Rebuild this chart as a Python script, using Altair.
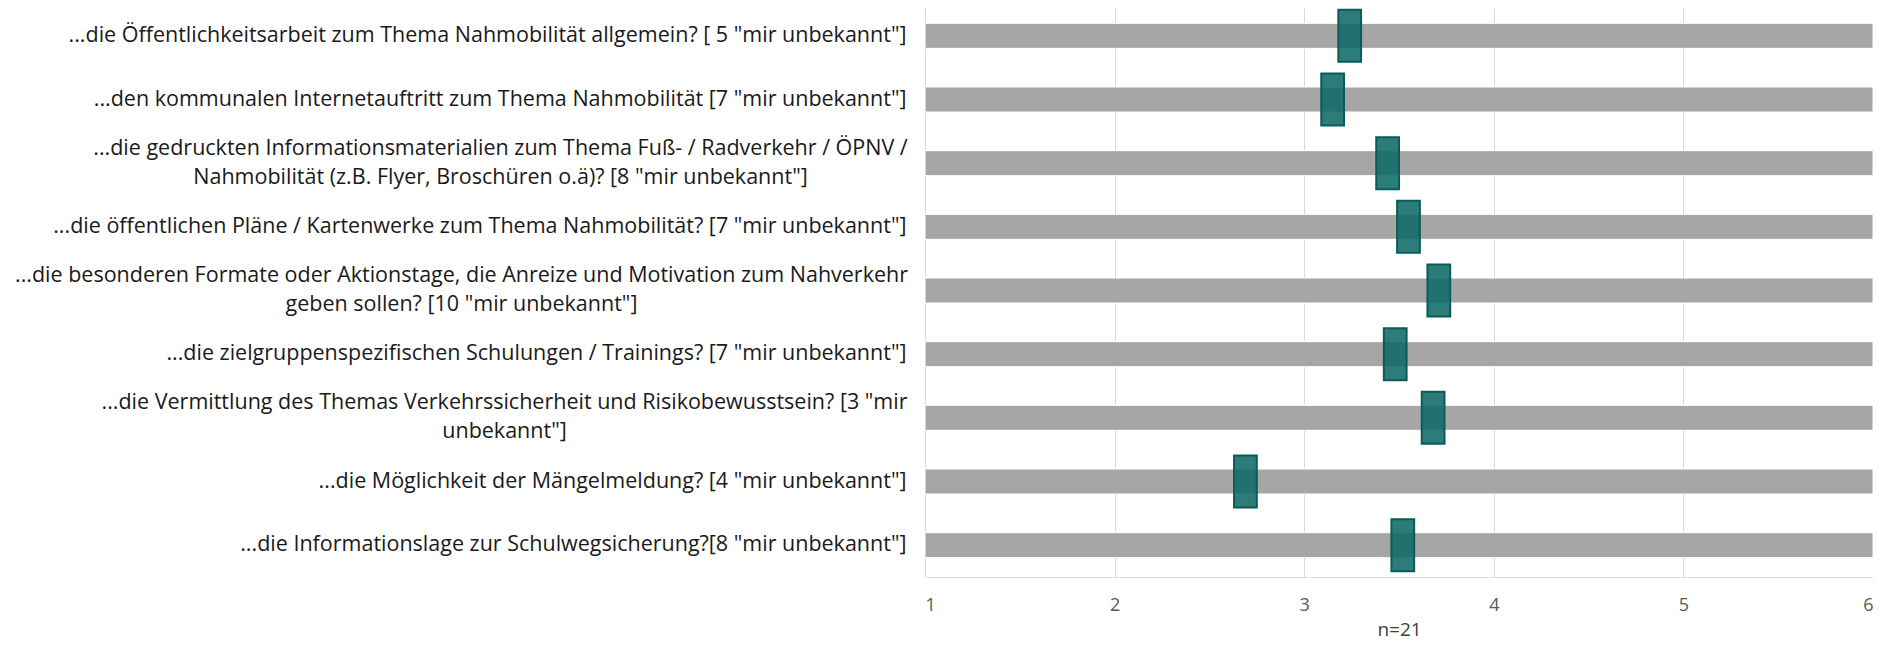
import altair as alt
import pandas as pd

labels = [
    '...die Öffentlichkeitsarbeit zum Thema  Nahmobilität allgemein? [ 5 "mir unbekannt"]',
    '...den kommunalen Internetauftritt zum Thema Nahmobilität [7 "mir unbekannt"]',
    '...die gedruckten Informationsmaterialien zum Thema Fuß- / Radverkehr / ÖPNV /\nNahmobilität (z.B. Flyer, Broschüren o.ä)? [8 "mir unbekannt"]',
    '...die öffentlichen Pläne / Kartenwerke zum Thema Nahmobilität? [7 "mir unbekannt"]',
    '...die besonderen Formate oder Aktionstage, die Anreize und Motivation zum Nahverkehr\ngeben sollen? [10 "mir unbekannt"]',
    '...die zielgruppenspezifischen Schulungen / Trainings? [7 "mir unbekannt"]',
    '...die Vermittlung des Themas Verkehrssicherheit und Risikobewusstsein? [3 "mir\nunbekannt"]',
    '...die Möglichkeit der Mängelmeldung? [4 "mir unbekannt"]',
    '...die Informationslage zur Schulwegsicherung?[8 "mir unbekannt"]',
]
means = [3.24, 3.15, 3.44, 3.55, 3.71, 3.48, 3.68, 2.69, 3.52]
scale_min = [1] * len(labels)
scale_max = [6] * len(labels)
x_ticks = [1, 2, 3, 4, 5, 6]
x_title = "n=21"

df = pd.DataFrame({"label": labels, "mean": means, "lo": scale_min, "hi": scale_max})

FONT = "Open Sans"
LABEL_SIZE = 21.5
LINE_H = 29
PAD = 19
MULTI = "indexof(datum.value, '\\n') >= 0"

# centre wrapped labels on their widest line (half-widths of that line, in px)
centre_pads = [
    ("gedruckten", PAD + 406),
    ("besonderen", PAD + 445),
    ("Vermittlung", PAD + 402),
]

y_enc = alt.Y(
    "label:N",
    sort=labels,
    scale=alt.Scale(paddingInner=0, paddingOuter=0),
    axis=alt.Axis(
        title=None,
        domain=False,
        ticks=False,
        grid=False,
        labelFont=FONT,
        labelFontSize=LABEL_SIZE,
        labelColor="#1a1a1a",
        labelLimit=2000,
        labelLineHeight=LINE_H,
        labelExpr="split(datum.value, '\\n')",
        labelAlign={"condition": {"test": MULTI, "value": "center"}, "value": "right"},
        labelPadding={
            "condition": [
                {"test": f"indexof(datum.value, '{key}') >= 0", "value": val}
                for key, val in centre_pads
            ],
            "value": PAD,
        },
        labelOffset={"condition": {"test": MULTI, "value": -LINE_H / 2}, "value": 0},
    ),
)

x_scale = alt.Scale(domain=[1, 6], nice=False, zero=False)
x_axis = alt.Axis(
    title=x_title,
    values=x_ticks,
    format="d",
    domain=False,
    ticks=False,
    grid=True,
    gridColor="#d9d9d9",
    gridWidth=1,
    labelPadding=19,
    labelFont=FONT,
    labelFontSize=18,
    labelColor="#595959",
    titleFont=FONT,
    titleFontSize=19,
    titleFontWeight="normal",
    titleColor="#404040",
    titlePadding=6,
)

bars = alt.Chart(df).mark_bar(size=25, color="#a6a6a6", stroke="#ffffff", strokeWidth=1).encode(
    x=alt.X("lo:Q", scale=x_scale, axis=x_axis),
    x2="hi:Q",
    y=y_enc,
)

markers = (
    alt.Chart(df)
    .transform_calculate(m_lo="datum.mean - 0.06", m_hi="datum.mean + 0.06")
    .mark_bar(size=52, fill="#0f6b68", fillOpacity=0.88, stroke="#0a5c59", strokeWidth=2)
    .encode(
        x=alt.X("m_lo:Q", scale=x_scale, axis=x_axis),
        x2="m_hi:Q",
        y=y_enc,
    )
)

chart = (
    alt.layer(bars, markers)
    .properties(
        width=948,
        height=573,
        autosize=alt.AutoSizeParams(type="none"),
        padding={"left": 917, "top": -4, "right": 0, "bottom": 64},
    )
    .configure_view(stroke=None)
    .configure(background="#ffffff")
)

chart.save("out.html", embed_options={"renderer": "svg", "actions": False})
